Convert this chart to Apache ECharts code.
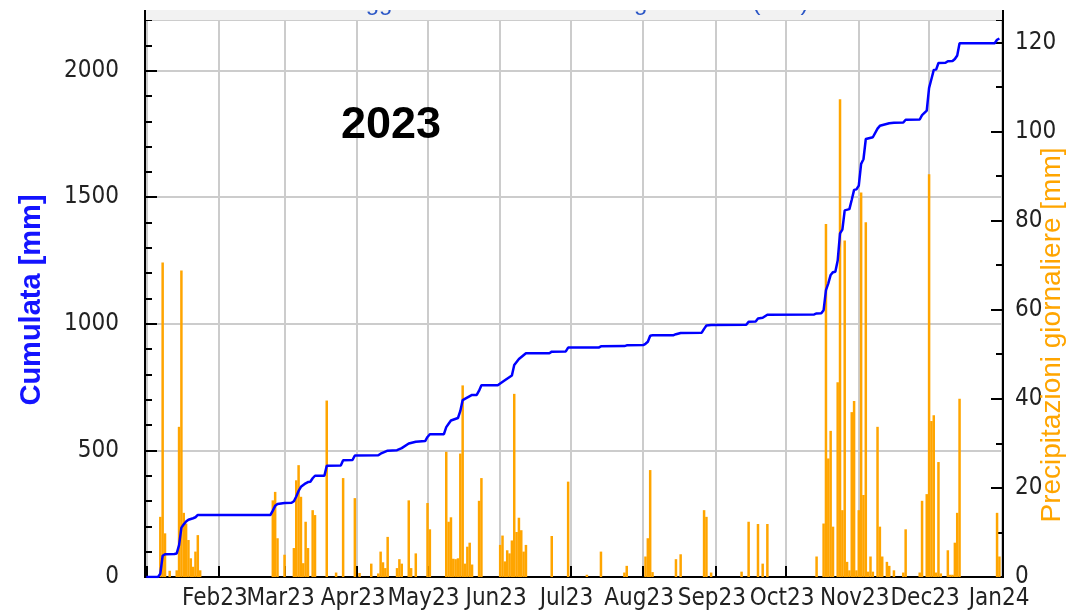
<!DOCTYPE html>
<html>
<head>
<meta charset="utf-8">
<script src="https://cdn.jsdelivr.net/npm/echarts@6/dist/echarts.min.js"></script>
<style>
html, body { margin: 0; padding: 0; background: #fff; }
#main { width: 1071px; height: 613px; }
</style>
</head>
<body>
<div id="main"></div>
<script>
// month tick labels (Jan23 .. Jan24)
var monthLabels = ['Jan23', 'Feb23', 'Mar23', 'Apr23', 'May23', 'Jun23', 'Jul23',
    'Aug23', 'Sep23', 'Oct23', 'Nov23', 'Dec23', 'Jan24'];

// daily rain (right axis, mm) - only rainy days
var rainDays = [
    '2023-01-07', '2023-01-08', '2023-01-09', '2023-01-11', '2023-01-14', '2023-01-15', '2023-01-16',
    '2023-01-17', '2023-01-18', '2023-01-19', '2023-01-20', '2023-01-21', '2023-01-22', '2023-01-23', '2023-01-24',
    '2023-02-24', '2023-02-25', '2023-02-26',
    '2023-03-01', '2023-03-05', '2023-03-06', '2023-03-07', '2023-03-08', '2023-03-09', '2023-03-10', '2023-03-11',
    '2023-03-13', '2023-03-14', '2023-03-19', '2023-03-23', '2023-03-26', '2023-03-31',
    '2023-04-02', '2023-04-07', '2023-04-10', '2023-04-11', '2023-04-12', '2023-04-13', '2023-04-14', '2023-04-18',
    '2023-04-19', '2023-04-20', '2023-04-23', '2023-04-24', '2023-04-26',
    '2023-05-01', '2023-05-02', '2023-05-09', '2023-05-10', '2023-05-11', '2023-05-12', '2023-05-13', '2023-05-14',
    '2023-05-15', '2023-05-16', '2023-05-17', '2023-05-18', '2023-05-19', '2023-05-20', '2023-05-23', '2023-05-24',
    '2023-06-01', '2023-06-02', '2023-06-03', '2023-06-04', '2023-06-05', '2023-06-06', '2023-06-07', '2023-06-08',
    '2023-06-09', '2023-06-10', '2023-06-11', '2023-06-12', '2023-06-23', '2023-06-30',
    '2023-07-08', '2023-07-14', '2023-07-24', '2023-07-25',
    '2023-08-02', '2023-08-03', '2023-08-04', '2023-08-05', '2023-08-15', '2023-08-17', '2023-08-27', '2023-08-28', '2023-08-30',
    '2023-09-12', '2023-09-15', '2023-09-19', '2023-09-21', '2023-09-23',
    '2023-10-14', '2023-10-17', '2023-10-18', '2023-10-19', '2023-10-20', '2023-10-21', '2023-10-23', '2023-10-24',
    '2023-10-25', '2023-10-26', '2023-10-27', '2023-10-28', '2023-10-29', '2023-10-30', '2023-10-31',
    '2023-11-01', '2023-11-02', '2023-11-03', '2023-11-04', '2023-11-05', '2023-11-06', '2023-11-07', '2023-11-09',
    '2023-11-10', '2023-11-11', '2023-11-13', '2023-11-14', '2023-11-16', '2023-11-20', '2023-11-21', '2023-11-27',
    '2023-11-28', '2023-11-30',
    '2023-12-01', '2023-12-02', '2023-12-03', '2023-12-04', '2023-12-05', '2023-12-06', '2023-12-09', '2023-12-10',
    '2023-12-11', '2023-12-12', '2023-12-13', '2023-12-14', '2023-12-30', '2023-12-31'
];
var rainMm = [
    13.5, 70.6, 9.8, 1.4, 1.5, 33.7, 68.8,
    14.4, 12, 8.3, 4.2, 2.3, 5.7, 9.4, 1.5,
    17.2, 19.1, 8.7,
    5, 6.5, 21.7, 25.1, 18, 3.1, 12.4, 6.5,
    15, 13.9, 39.6, 1, 22.2, 17.7,
    0.9, 3, 0.8, 5.7, 3.3, 2, 9, 2,
    4, 3, 17.2, 2, 5.3,
    16.6, 10.7, 28.1, 12.4, 13.4, 4.1, 4, 4.2,
    27.7, 43, 3, 6.8, 7.7, 2.8, 17.1, 22.2,
    7.2, 9.3, 3.5, 6, 5.3, 8.2, 41.1, 10.1,
    13.3, 10.5, 5.7, 7.2, 9.2, 21.4,
    0.5, 5.7, 1, 2.5,
    4.6, 8.7, 24, 1.1, 4, 5.1, 15, 13.5, 1,
    1.2, 12.4, 11.9, 3, 11.9,
    4.6, 12, 79.2, 26.6, 32.8, 11.3, 43.7, 107.2,
    15, 75.5, 3.4, 1.5, 37, 39.5, 1.5,
    15, 86.3, 18.4, 79.6, 1.2, 4.6, 1.2, 33.7,
    11.3, 4.6, 3.4, 2.5, 1.5, 1, 10.7, 1,
    17.1, 18.6,
    90.4, 35, 36.3, 1, 25.8, 0.8, 6, 0.5,
    0.5, 7.7, 14.4, 40, 14.4, 4.6
];

// cumulative rain (left axis, mm)
var cumDays = [
    '2023-01-01', '2023-01-06', '2023-01-07', '2023-01-08', '2023-01-09', '2023-01-13', '2023-01-14', '2023-01-15',
    '2023-01-16', '2023-01-17', '2023-01-18', '2023-01-19', '2023-01-21', '2023-01-22', '2023-01-23',
    '2023-02-23', '2023-02-24', '2023-02-25', '2023-02-26',
    '2023-03-01', '2023-03-04', '2023-03-05', '2023-03-06', '2023-03-07', '2023-03-08', '2023-03-10', '2023-03-11',
    '2023-03-12', '2023-03-13', '2023-03-14', '2023-03-18', '2023-03-19', '2023-03-25', '2023-03-26', '2023-03-30', '2023-03-31',
    '2023-04-10', '2023-04-11', '2023-04-14', '2023-04-18', '2023-04-20', '2023-04-23', '2023-04-26', '2023-04-30',
    '2023-05-01', '2023-05-02', '2023-05-08', '2023-05-09', '2023-05-10', '2023-05-11', '2023-05-14', '2023-05-15',
    '2023-05-16', '2023-05-20', '2023-05-22', '2023-05-23', '2023-05-24', '2023-05-31',
    '2023-06-01', '2023-06-03', '2023-06-06', '2023-06-07', '2023-06-09', '2023-06-12', '2023-06-22', '2023-06-23',
    '2023-06-29', '2023-06-30',
    '2023-07-13', '2023-07-14', '2023-07-24', '2023-07-25',
    '2023-08-01', '2023-08-02', '2023-08-03', '2023-08-04', '2023-08-05', '2023-08-14', '2023-08-15', '2023-08-17',
    '2023-08-26', '2023-08-27', '2023-08-28', '2023-08-30',
    '2023-09-14', '2023-09-15', '2023-09-18', '2023-09-19', '2023-09-21', '2023-09-23',
    '2023-10-13', '2023-10-14', '2023-10-16', '2023-10-17', '2023-10-18', '2023-10-19', '2023-10-20', '2023-10-21',
    '2023-10-22', '2023-10-23', '2023-10-24', '2023-10-25', '2023-10-26', '2023-10-28', '2023-10-29', '2023-10-30', '2023-10-31',
    '2023-11-01', '2023-11-02', '2023-11-03', '2023-11-04', '2023-11-07', '2023-11-09', '2023-11-10', '2023-11-14',
    '2023-11-16', '2023-11-20', '2023-11-21', '2023-11-27', '2023-11-28', '2023-11-30',
    '2023-12-01', '2023-12-02', '2023-12-03', '2023-12-04', '2023-12-05', '2023-12-08', '2023-12-09', '2023-12-11',
    '2023-12-12', '2023-12-13', '2023-12-14', '2023-12-29', '2023-12-30', '2023-12-31'
];
var cumMm = [
    0, 0, 13, 84, 90, 91, 93, 126,
    195, 208, 219, 226, 232, 236, 245,
    245, 262, 281, 288,
    292, 293, 299, 318, 340, 356, 370, 375,
    376, 390, 400, 400, 439, 440, 461, 462, 480,
    481, 487, 499, 501, 509, 527, 534, 537,
    553, 564, 564, 592, 605, 618, 628, 656,
    699, 719, 719, 736, 757, 757,
    764, 777, 796, 837, 861, 884, 884, 890,
    891, 906,
    906, 911, 912, 915,
    916, 921, 929, 953, 955, 955, 959, 964,
    965, 980, 993, 995,
    996, 1008, 1009, 1021, 1024, 1036,
    1037, 1041, 1042, 1054, 1133, 1160, 1193, 1204,
    1206, 1250, 1357, 1372, 1448, 1453, 1490, 1529, 1531,
    1546, 1632, 1650, 1730, 1737, 1771, 1782, 1792,
    1794, 1795, 1806, 1807, 1824, 1842,
    1932, 1967, 2003, 2004, 2030, 2031, 2037, 2038,
    2046, 2060, 2108, 2108, 2122, 2127
];

var tickFont = "'DejaVu Sans Condensed', 'DejaVu Sans', sans-serif";

var myChart = echarts.init(document.getElementById('main'));

var barData = rainDays.map(function (d, i) { return [d, rainMm[i]]; });
var lineData = cumDays.map(function (d, i) { return [d, cumMm[i]]; });

function yAxisBase(pos, max, interval, tickLen, labels, split) {
    return {
        type: 'value',
        position: pos,
        min: 0,
        max: max,
        interval: interval,
        axisLine: {show: true, lineStyle: {color: '#000', width: 2}},
        axisTick: {show: true, inside: true, length: tickLen, lineStyle: {color: '#000', width: 2}},
        axisLabel: {
            show: labels,
            showMaxLabel: false,
            margin: pos === 'left' ? 26 : 12,
            color: '#222',
            fontFamily: tickFont,
            fontSize: 24,
            formatter: function (v) { return String(v); }
        },
        splitLine: {show: split, lineStyle: {color: '#cccccc', width: 2}}
    };
}

var option = {
    animation: false,
    backgroundColor: '#fff',
    title: {
        text: 'Pioggia cumulata annuale e giornaliera (mm)',
        left: 326,
        top: -14,
        z: 5,
        textStyle: {
            fontFamily: 'Liberation Sans',
            fontSize: 24,
            fontWeight: 'normal',
            color: '#2a56c6'
        }
    },
    grid: {
        left: 145,
        right: 68,
        top: 20,
        bottom: 36,
        show: true,
        borderColor: '#000',
        borderWidth: 2,
        backgroundColor: 'transparent'
    },
    xAxis: {
        type: 'time',
        min: '2023-01-01',
        max: '2024-01-01',
        splitNumber: 12,
        axisLine: {show: true, lineStyle: {color: '#000', width: 2}},
        axisTick: {show: true, inside: true, length: 11, lineStyle: {color: '#000', width: 2}},
        axisLabel: {
            showMinLabel: false,
            showMaxLabel: true,
            margin: 10,
            padding: [0, 8, 0, 0],
            color: '#222',
            fontFamily: tickFont,
            fontSize: 24,
            formatter: function (v) {
                var d = new Date(v);
                var idx = (d.getFullYear() - 2023) * 12 + d.getMonth();
                // the first month (Jan23) has no label on the left edge
                return idx > 0 ? (monthLabels[idx] || '') : '';
            }
        },
        splitLine: {show: true, lineStyle: {color: '#cccccc', width: 2}}
    },
    yAxis: [
        yAxisBase('left', 2200, 500, 12, true, true),
        yAxisBase('left', 2200, 100, 7, false, false),
        yAxisBase('right', 125, 20, 12, true, false),
        yAxisBase('right', 125, 10, 7, false, false)
    ],
    graphic: [
        {type: 'rect', z: 1, shape: {x: 145, y: 10, width: 858, height: 10}, style: {fill: '#f2f2f2'}},
        {type: 'line', z: 1, shape: {x1: 145, y1: 10, x2: 145, y2: 20}, style: {stroke: '#000', lineWidth: 2}},
        {type: 'line', z: 1, shape: {x1: 1003, y1: 10, x2: 1003, y2: 20}, style: {stroke: '#000', lineWidth: 2}},
        {type: 'rect', z: 50, shape: {x: 0, y: 0, width: 1071, height: 10}, style: {fill: '#fff'}},
        {
            type: 'text', z: 20, x: 391, y: 126,
            style: {
                text: '2023', fill: '#000', fontSize: 45, fontWeight: 'bold', fontFamily: 'Liberation Sans',
                align: 'center', verticalAlign: 'middle', textAlign: 'center', textVerticalAlign: 'middle'
            }
        },
        {
            type: 'text', z: 20, x: 32, y: 300, rotation: Math.PI / 2,
            style: {
                text: 'Cumulata [mm]', fill: '#1414ff', fontSize: 29, fontWeight: 'bold', fontFamily: 'Liberation Sans',
                align: 'center', verticalAlign: 'middle', textAlign: 'center', textVerticalAlign: 'middle'
            }
        },
        {
            type: 'text', z: 20, x: 1052, y: 335, rotation: Math.PI / 2,
            style: {
                text: 'Precipitazioni giornaliere [mm]', fill: '#ffa500', fontSize: 28, fontFamily: 'Liberation Sans',
                align: 'center', verticalAlign: 'middle', textAlign: 'center', textVerticalAlign: 'middle'
            }
        }
    ],
    series: [
        {
            name: 'Giornaliera',
            type: 'bar',
            xAxisIndex: 0,
            yAxisIndex: 2,
            barWidth: 2.5,
            itemStyle: {color: '#ffa500'},
            data: barData
        },
        {
            name: 'Cumulata',
            type: 'line',
            xAxisIndex: 0,
            yAxisIndex: 0,
            symbol: 'none',
            lineStyle: {color: '#0000ff', width: 2.5},
            data: lineData,
            z: 3
        }
    ]
};

myChart.setOption(option);
</script>
</body>
</html>
